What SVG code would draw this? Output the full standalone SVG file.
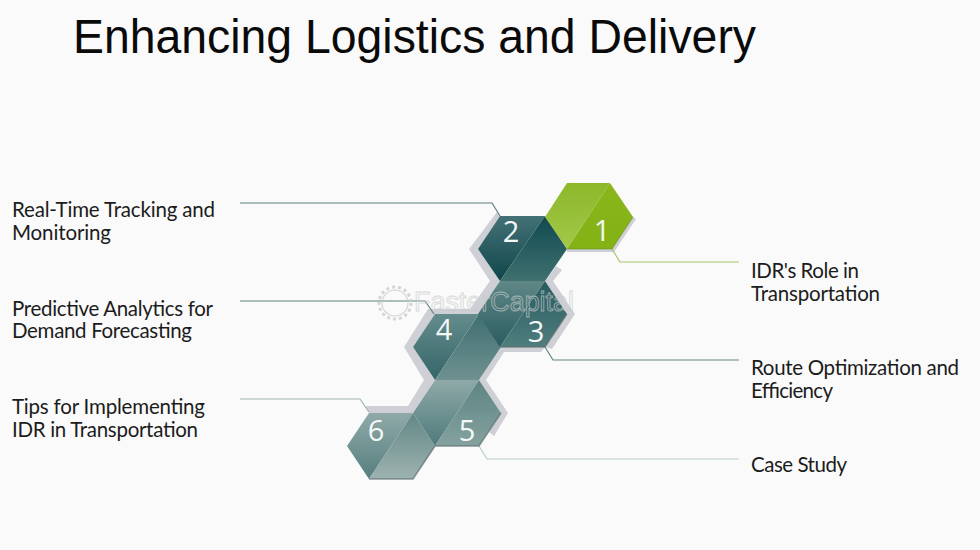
<svg xmlns="http://www.w3.org/2000/svg" width="980" height="550" viewBox="0 0 980 550">
<style>
.t{font-family:"Lato","Open Sans",sans-serif;font-size:20.5px;fill:#1c1c1c}
.n{font-family:"Open Sans","Noto Sans",sans-serif;font-size:29px;fill:#f4f8f6;text-anchor:middle}
.c{fill:none;stroke-width:1.2}
.s{fill:#cfd0d6}
.e{fill:none;stroke:#5d6f6e;stroke-width:1.5;opacity:.7}
</style>
<defs>
<linearGradient id="g1a" x1="0" y1="0" x2="0" y2="1"><stop offset="0" stop-color="#8cb82a"/><stop offset="1" stop-color="#a4c84a"/></linearGradient>
<linearGradient id="g1b" x1="0" y1="0" x2="0" y2="1"><stop offset="0" stop-color="#8ab61c"/><stop offset="1" stop-color="#83b214"/></linearGradient>
<linearGradient id="g2a" x1="0" y1="0" x2="0" y2="1"><stop offset="0" stop-color="#447176"/><stop offset="1" stop-color="#0f464b"/></linearGradient>
<linearGradient id="g2b" x1="0" y1="0" x2="0" y2="1"><stop offset="0" stop-color="#0f4a50"/><stop offset="1" stop-color="#40706f"/></linearGradient>
<linearGradient id="g3a" x1="0" y1="0" x2="0" y2="1"><stop offset="0" stop-color="#5f8786"/><stop offset="1" stop-color="#2a5c60"/></linearGradient>
<linearGradient id="g3b" x1="0" y1="0" x2="0" y2="1"><stop offset="0" stop-color="#275a5f"/><stop offset="1" stop-color="#507e7e"/></linearGradient>
<linearGradient id="g4a" x1="0" y1="0" x2="0" y2="1"><stop offset="0" stop-color="#648c8c"/><stop offset="1" stop-color="#356568"/></linearGradient>
<linearGradient id="g4b" x1="0" y1="0" x2="0" y2="1"><stop offset="0" stop-color="#3f6f71"/><stop offset="1" stop-color="#6f9190"/></linearGradient>
<linearGradient id="g5a" x1="0" y1="0" x2="0" y2="1"><stop offset="0" stop-color="#8fa9a8"/><stop offset="1" stop-color="#4f7a7b"/></linearGradient>
<linearGradient id="g5b" x1="0" y1="0" x2="0" y2="1"><stop offset="0" stop-color="#5d8583"/><stop offset="1" stop-color="#84a19f"/></linearGradient>
<linearGradient id="g6a" x1="0" y1="0" x2="0" y2="1"><stop offset="0" stop-color="#90aaa9"/><stop offset="1" stop-color="#557e7e"/></linearGradient>
<linearGradient id="g6b" x1="0" y1="0" x2="0" y2="1"><stop offset="0" stop-color="#628886"/><stop offset="1" stop-color="#9db2b0"/></linearGradient>
</defs>
<rect width="980" height="550" fill="#fafafa"/>
<text x="73" y="53" font-family="'Liberation Sans',Arial,sans-serif" font-size="48" fill="#0a0a0a" textLength="683" lengthAdjust="spacingAndGlyphs">Enhancing Logistics and Delivery</text>
<g id="shadows">
<polygon class="s" points="497,212 469,249 490,281 470,309 428,309 404,347 424,380 408,406 365,406 369,413 413,413 435,380 413,347 435,314 479,314 500,281 478,249 500,216"/>
<polygon class="s" points="553,281 575,314 552,349 545,347 567,314 545,281"/>
<polygon class="s" points="501,347 545,347 541,352 504,352 486,380 479,380"/>
<polygon class="s" points="479,380 486,380 508,413 494,436 489,432 501,413"/>
<polygon class="s" points="556,266 562,270 553,281 545,281"/>
<polygon class="s" points="633,217 636,219 614,252 567,252 567,249 612,249"/>
</g>
<g id="connectors">
<polyline class="c" stroke="#5f7f80" points="240,203 492,203 500,216"/>
<polyline class="c" stroke="#5f8380" points="240,301 425,301 434,314"/>
<polyline class="c" stroke="#9fb5b3" points="240,399 360,399 369,412"/>
<polyline class="c" stroke="#a9c46a" points="612,249 620,262 739,262"/>
<polyline class="c" stroke="#5f8580" points="545,347 553,360 739,360"/>
<polyline class="c" stroke="#b9cfca" points="479,446 487,459 739,459"/>
</g>
<g id="node-6">
<polygon fill="url(#g6a)" points="369,413 413,413 369,479 347,446"/>
<polygon fill="url(#g6b)" points="413,413 435,446 413,479 369,479"/>
<polyline class="e" points="369,479 413,479 435,446"/>
<text class="n" x="376" y="441">6</text>
</g>
<g id="node-5">
<polygon fill="url(#g5a)" points="435,380 479,380 435,446 413,413"/>
<polygon fill="url(#g5b)" points="479,380 501,413 479,446 435,446"/>
<polyline class="e" points="435,446 479,446 501,413"/>
<text class="n" x="467" y="441">5</text>
</g>
<g id="node-4">
<polygon fill="url(#g4a)" points="435,314 479,314 435,380 413,347"/>
<polygon fill="url(#g4b)" points="479,314 501,347 479,380 435,380"/>
<text class="n" x="444" y="340">4</text>
</g>
<g id="node-3">
<polygon fill="url(#g3a)" points="500,281 545,281 500,347 478,314"/>
<polygon fill="url(#g3b)" points="545,281 567,314 545,347 500,347"/>
<polyline class="e" points="500,347 545,347 567,314"/>
<text class="n" x="536" y="342">3</text>
</g>
<g id="node-2">
<polygon fill="url(#g2a)" points="500,216 545,216 500,281 478,249"/>
<polygon fill="url(#g2b)" points="545,216 567,249 545,281 500,281"/>
<text class="n" x="511" y="242">2</text>
</g>
<g id="node-1">
<polygon fill="url(#g1a)" points="567,183 610,183 567,249 545,217"/>
<polygon fill="url(#g1b)" points="610,183 633,217 612,249 567,249"/>
<polyline fill="none" stroke="#6f8f2a" stroke-width="1.2" opacity=".6" points="567,249 612,249 633,217"/>
<text class="n" x="602" y="241">1</text>
</g>
<g id="watermark" opacity=".7">
<circle cx="395" cy="303" r="13" fill="none" stroke="#c4c7c7" stroke-width="1.2"/>
<circle cx="395" cy="303" r="16" fill="none" stroke="#c4c7c7" stroke-width="3" stroke-dasharray="3 3"/>
<text x="414" y="311" font-family="'Liberation Sans',Arial,sans-serif" font-size="27" fill="none" stroke="#c8cccc" stroke-width=".9" textLength="160" lengthAdjust="spacingAndGlyphs">FasterCapital</text>
</g>
<g id="labels">
<text class="t" x="12" y="217" textLength="203">Real-Time Tracking and</text>
<text class="t" x="12" y="240" textLength="99">Monitoring</text>
<text class="t" x="12" y="316" textLength="201">Predictive Analytics for</text>
<text class="t" x="12" y="338" textLength="180">Demand Forecasting</text>
<text class="t" x="12" y="414" textLength="193">Tips for Implementing</text>
<text class="t" x="12" y="437" textLength="186">IDR in Transportation</text>
<text class="t" x="751" y="278" textLength="108">IDR's Role in</text>
<text class="t" x="751" y="301" textLength="129">Transportation</text>
<text class="t" x="751" y="375" textLength="208">Route Optimization and</text>
<text class="t" x="751" y="398" textLength="82">Efficiency</text>
<text class="t" x="751" y="472" textLength="96">Case Study</text>
</g>
</svg>
